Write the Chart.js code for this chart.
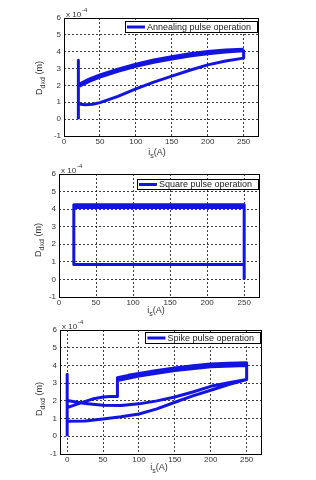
<!DOCTYPE html>
<html>
<head>
<meta charset="utf-8">
<script src="https://cdn.jsdelivr.net/npm/chart.js@4/dist/chart.umd.min.js"></script>
<style>
  html, body { margin: 0; padding: 0; background: #fff; }
  .box { position: absolute; left: 0; width: 316px; height: 160px; }
</style>
</head>
<body>
<div class="box" style="top:0"><canvas id="c1" width="316" height="160"></canvas></div>
<div class="box" style="top:160px"><canvas id="c2" width="316" height="160"></canvas></div>
<div class="box" style="top:320px"><canvas id="c3" width="316" height="160"></canvas></div>
<script>
// tick values (y in units of 1e-4 m)
const xTicks = [0, 50, 100, 150, 200, 250];
const yTicks = [-1, 0, 1, 2, 3, 4, 5, 6];

const legendLabels = ['Annealing pulse operation', 'Square pulse operation', 'Spike pulse operation'];

// annealing pulse: vertical spike, lower branch, upper band (two passes)
const annealX = [20, 20, 20, 30, 40, 50, 75, 100, 125, 150, 175, 200, 225, 250,
  250, 225, 200, 175, 150, 125, 100, 75, 50, 35, 20,
  20, 35, 50, 75, 100, 125, 150, 175, 200, 225, 250];
const annealY = [0, 3.5, 0.9, 0.86, 0.88, 0.98, 1.35, 1.8, 2.2, 2.55, 2.9, 3.22, 3.45, 3.62,
  4.05, 3.98, 3.88, 3.75, 3.57, 3.38, 3.13, 2.84, 2.5, 2.24, 1.92,
  2.05, 2.37, 2.63, 2.97, 3.26, 3.51, 3.7, 3.88, 4.01, 4.1, 4.14];

// square pulse
const squareX = [250, 250, 20, 20, 250, 250, 20, 20];
const squareY = [0, 4.25, 4.25, 0.85, 0.85, 4.09, 4.09, 4.25];

// spike pulse
const spikeX = [0, 0, 0, 25, 50, 75, 100, 125, 150, 175, 200, 225, 250,
  250, 225, 200, 175, 150, 125, 100, 85, 70, 70, 60, 50, 35, 20, 0,
  0, 25, 50, 75, 100, 125, 150, 175, 200, 225, 250,
  250, 200, 150, 100, 70];
const spikeY = [0, 3.5, 0.85, 0.86, 0.97, 1.1, 1.26, 1.55, 1.92, 2.28, 2.6, 2.92, 3.2,
  4.15, 4.13, 4.08, 3.98, 3.86, 3.72, 3.55, 3.44, 3.3, 2.25, 2.25, 2.22, 2.1, 1.9, 1.62,
  2.02, 1.85, 1.75, 1.74, 1.83, 2.0, 2.22, 2.5, 2.82, 3.02, 3.2,
  4.0, 3.93, 3.71, 3.4, 3.15];

const BLUE = '#1414e0';
const FONT = '"Liberation Sans", Arial, sans-serif';
const TXT = '#333';

function pts(xs, ys) {
  return xs.map((x, i) => ({ x: x, y: ys[i] }));
}

// draw text pieces like D_dxd (m) one after another, centred
function drawPieces(ctx, pieces, cx, cy, rot) {
  ctx.save();
  ctx.translate(cx, cy);
  if (rot) ctx.rotate(-Math.PI / 2);
  ctx.textBaseline = 'middle';
  ctx.textAlign = 'left';
  let total = 0;
  pieces.forEach(p => { ctx.font = p[1] + 'px ' + FONT; total += ctx.measureText(p[0]).width; });
  let x = -total / 2;
  pieces.forEach(p => {
    ctx.font = p[1] + 'px ' + FONT;
    ctx.fillText(p[0], x, p[2]);
    x += ctx.measureText(p[0]).width;
  });
  ctx.restore();
}

function deco(c) {
  return {
    id: 'deco',
    afterDraw(chart) {
      const ctx = chart.ctx;
      const a = chart.chartArea;
      ctx.save();
      // frame
      ctx.strokeStyle = '#000';
      ctx.lineWidth = 1;
      ctx.strokeRect(Math.round(a.left) + 0.5, Math.round(a.top) + 0.5,
        Math.round(a.right - a.left), Math.round(a.bottom - a.top));
      ctx.fillStyle = TXT;
      // x 10^-4
      ctx.textBaseline = 'alphabetic';
      ctx.textAlign = 'left';
      ctx.font = '8px ' + FONT;
      ctx.fillText('x 10', a.left + 2, a.top - 1);
      const w = ctx.measureText('x 10').width;
      ctx.font = '6px ' + FONT;
      ctx.fillText('-4', a.left + 3 + w, a.top - 6);
      // axis titles
      drawPieces(ctx, [['D', 9, 0], ['dxd', 7, 3], [' (m)', 9, 0]], c.yTitle[0], c.yTitle[1], true);
      drawPieces(ctx, [['i', 9, 0], ['s', 7, 3], ['(A)', 9, 0]], c.xTitle[0], c.xTitle[1], false);
      // legend inside plot
      ctx.font = '9px ' + FONT;
      const tw = ctx.measureText(c.label).width;
      const bw = 2 + 18 + 2 + tw + 6;
      const L = c.leg;
      const left = L.right - bw;
      ctx.fillStyle = '#fff';
      ctx.fillRect(left, L.top, bw, L.h);
      ctx.strokeStyle = '#000';
      ctx.strokeRect(Math.round(left) + 0.5, L.top + 0.5, Math.round(bw), L.h);
      ctx.strokeStyle = BLUE;
      ctx.lineWidth = 3;
      ctx.beginPath();
      ctx.moveTo(left + 2, L.top + L.h / 2 + 0.5);
      ctx.lineTo(left + 20, L.top + L.h / 2 + 0.5);
      ctx.stroke();
      ctx.fillStyle = '#222';
      ctx.textBaseline = 'middle';
      ctx.fillText(c.label, left + 22, L.top + L.h / 2 + 1);
      ctx.restore();
    }
  };
}

function makeChart(id, c) {
  new Chart(document.getElementById(id), {
    type: 'line',
    data: {
      datasets: [{
        label: c.label,
        data: pts(c.xs, c.ys),
        borderColor: BLUE,
        borderWidth: 3,
        pointRadius: 0,
        tension: 0,
        fill: false,
        borderJoinStyle: 'round',
        borderCapStyle: 'butt'
      }]
    },
    options: {
      responsive: false,
      animation: false,
      events: [],
      layout: { padding: { top: c.area.top, right: 316 - c.area.right, left: 0, bottom: 0 } },
      plugins: { legend: { display: false }, tooltip: { enabled: false } },
      scales: {
        x: {
          type: 'linear',
          min: c.xMin,
          max: 270,
          afterBuildTicks: s => { s.ticks = xTicks.map(v => ({ value: v })); },
          afterFit: s => { s.height = 160 - c.area.bottom; },
          ticks: { color: TXT, font: { family: FONT, size: 8 }, padding: 1, maxRotation: 0 },
          grid: { color: 'rgba(0,0,0,0.75)', lineWidth: 1, drawTicks: false },
          border: { display: false, dash: [2, 2] }
        },
        y: {
          type: 'linear',
          min: -1,
          max: 6,
          afterBuildTicks: s => { s.ticks = yTicks.map(v => ({ value: v })); },
          afterFit: s => { s.width = c.area.left; },
          ticks: { color: TXT, font: { family: FONT, size: 8 }, padding: 3 },
          grid: { color: 'rgba(0,0,0,0.75)', lineWidth: 1, drawTicks: false },
          border: { display: false, dash: [2, 2] }
        }
      }
    },
    plugins: [deco(c)]
  });
}

makeChart('c1', {
  label: legendLabels[0], xs: annealX, ys: annealY, xMin: 0,
  area: { left: 64, right: 258, top: 18, bottom: 136 },
  yTitle: [40, 78], xTitle: [157, 153],
  leg: { right: 257, top: 21, h: 11 }
});
makeChart('c2', {
  label: legendLabels[1], xs: squareX, ys: squareY, xMin: 0,
  area: { left: 59, right: 259, top: 14, bottom: 137 },
  yTitle: [39, 80], xTitle: [156, 151],
  leg: { right: 258, top: 19, h: 10 }
});
makeChart('c3', {
  label: legendLabels[2], xs: spikeX, ys: spikeY, xMin: -10,
  area: { left: 60, right: 261, top: 10, bottom: 134 },
  yTitle: [40, 79], xTitle: [159, 148],
  leg: { right: 260, top: 12, h: 11 }
});
</script>
</body>
</html>
